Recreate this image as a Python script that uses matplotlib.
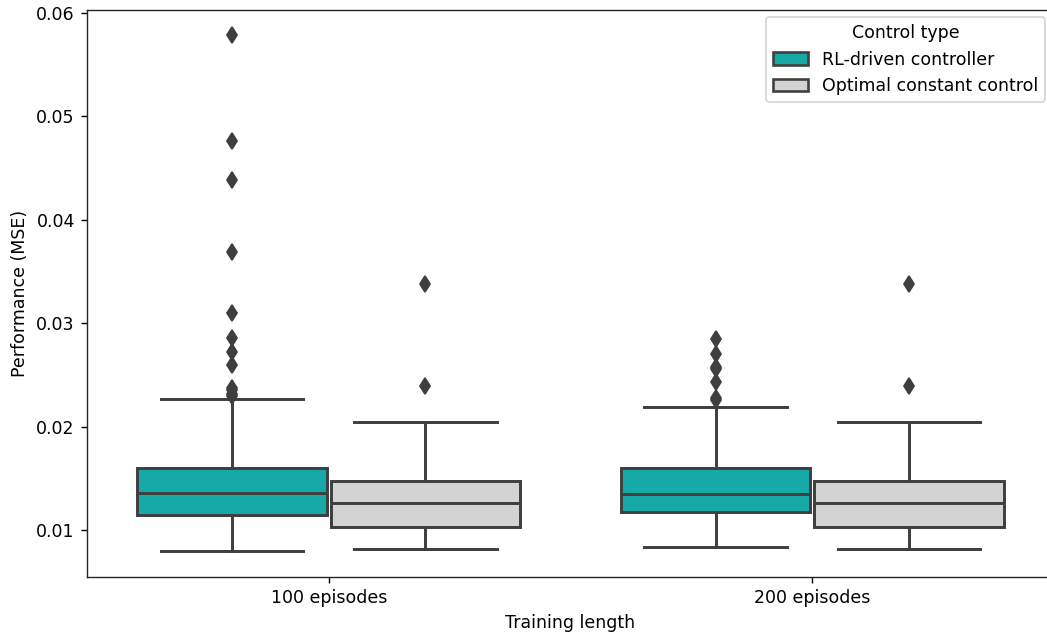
import matplotlib.pyplot as plt
from matplotlib.patches import Patch

groups = ['100 episodes', '200 episodes']
hues = ['RL-driven controller', 'Optimal constant control']
colors = ['#17a8a8', '#d3d3d3']
edge = '#3f3f3f'

# box stats, per group, per hue
q1 = [[0.01142, 0.01030], [0.01177, 0.01030]]
med = [[0.01355, 0.01258], [0.01348, 0.01258]]
q3 = [[0.01597, 0.01474], [0.01597, 0.01474]]
wlo = [[0.00797, 0.00818], [0.00833, 0.00818]]
whi = [[0.02268, 0.02048], [0.02191, 0.02048]]
fliers = [
    [[0.05785, 0.04766, 0.04385, 0.03688, 0.03098, 0.02856, 0.02726,
      0.02597, 0.0237, 0.0235, 0.0232, 0.0230],
     [0.03380, 0.02397]],
    [[0.02852, 0.02700, 0.02580, 0.02560, 0.02436, 0.0228, 0.0226],
     [0.03380, 0.02397]],
]

plt.rcParams['font.size'] = 10
fig = plt.figure(figsize=(1047 / 125, 634 / 125), dpi=125)
# right spine sits just past the picture's edge, as in the reference
ax = fig.add_axes([87 / 1047, 57.3 / 634, 967 / 1047, 566.7 / 634])

for g in range(len(groups)):
    for h in range(len(hues)):
        pos = g + (h - 0.5) * 0.4
        st = {'q1': q1[g][h], 'med': med[g][h], 'q3': q3[g][h],
              'whislo': wlo[g][h], 'whishi': whi[g][h], 'fliers': fliers[g][h]}
        ax.bxp([st], positions=[pos], widths=0.392, patch_artist=True,
               boxprops=dict(facecolor=colors[h], edgecolor=edge, linewidth=1.7),
               medianprops=dict(color=edge, linewidth=1.7),
               whiskerprops=dict(color=edge, linewidth=1.7),
               capprops=dict(color=edge, linewidth=1.7),
               flierprops=dict(marker='d', markerfacecolor=edge, markeredgecolor=edge,
                               markersize=6.5, linestyle='none'),
               capwidths=0.3 * 0.98)

ax.set_xlim(-0.5, 1.5)
ax.set_ylim(0.00548, 0.0603)
ax.set_xticks([0, 1])
ax.set_xticklabels(groups)
ax.set_yticks([0.01, 0.02, 0.03, 0.04, 0.05, 0.06])
ax.set_xlabel('Training length')
ax.set_ylabel('Performance (MSE)')
for s in ax.spines.values():
    s.set_color('#262626')

handles = [Patch(facecolor=colors[i], edgecolor=edge, linewidth=1.5, label=hues[i])
           for i in range(2)]
ax.legend(handles=handles, title='Control type', loc='upper right',
          bbox_to_anchor=(1045 / 1047, 1 - 17 / 634), bbox_transform=fig.transFigure,
          borderaxespad=0)

fig.savefig('out.png', dpi=125)
